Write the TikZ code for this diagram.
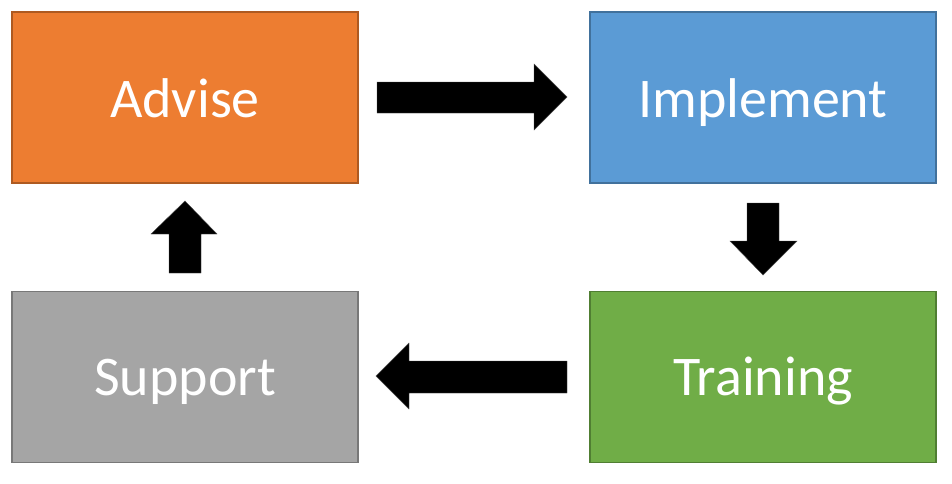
\documentclass[tikz,border=0pt]{standalone}
\usepackage{fontspec}
\setmainfont{Carlito}
\definecolor{advfill}{HTML}{ED7D31}\definecolor{advline}{HTML}{AE5A21}
\definecolor{impfill}{HTML}{5B9BD5}\definecolor{impline}{HTML}{41719C}
\definecolor{trnfill}{HTML}{70AD47}\definecolor{trnline}{HTML}{507E32}
\definecolor{supfill}{HTML}{A5A5A5}\definecolor{supline}{HTML}{787878}
\tikzset{
  stagebox/.style={draw, line width=1.5pt, minimum width=346pt, minimum height=171pt, inner sep=0pt},
  stagetext/.style={text=white, font=\fontsize{56}{60}\selectfont, anchor=base, inner sep=0pt},
  blockarrow/.style={fill=black, draw=black!70, line width=0.4pt}
}
\begin{document}
\begin{tikzpicture}[x=1pt,y=-1pt]
\useasboundingbox (0,0) rectangle (952,483);
\node[stagebox, fill=advfill, draw=advline] (advise) at (185,97.5) {};
\node[stagebox, fill=impfill, draw=impline] (implement) at (763,97.5) {};
\node[stagebox, fill=trnfill, draw=trnline] (training) at (763,377) {};
\node[stagebox, fill=supfill, draw=supline] (support) at (185,377) {};
\node[stagetext] (tadvise) at ([yshift=-19.5pt]advise.center) {Advise};
\node[stagetext] (timplement) at ([yshift=-19.5pt]implement.center) {Implement};
\node[stagetext] (ttraining) at ([yshift=-18pt]training.center) {Training};
\node[stagetext] (tsupport) at ([yshift=-18pt]support.center) {Support};
% right arrow
\fill[blockarrow] (377,82) -- (534,82) -- (534,64) -- (567,97) -- (534,130) -- (534,113) -- (377,113) -- cycle;
% down arrow
\fill[blockarrow] (747,203) -- (779,203) -- (779,241) -- (797,241) -- (763,275) -- (730,241) -- (747,241) -- cycle;
% left arrow
\fill[blockarrow] (567,361) -- (409,361) -- (409,343) -- (376,376) -- (409,409) -- (409,393) -- (567,393) -- cycle;
% up arrow
\fill[blockarrow] (169,273) -- (169,234) -- (151,234) -- (185,201) -- (217,234) -- (201,234) -- (201,273) -- cycle;
\end{tikzpicture}
\end{document}
